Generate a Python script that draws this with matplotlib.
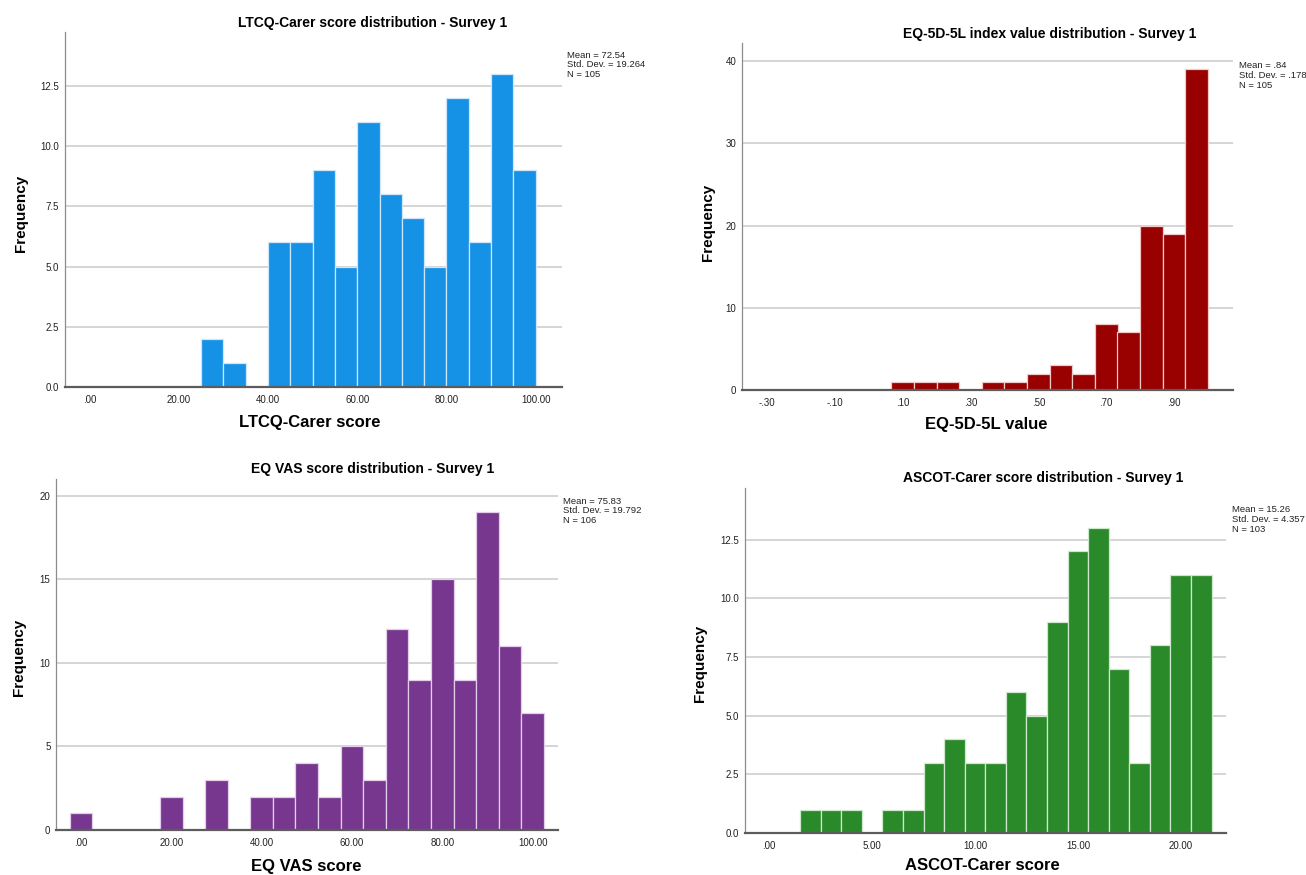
import matplotlib
matplotlib.use('Agg')
import matplotlib.pyplot as plt
import numpy as np

plt.rcParams['font.family'] = ['Liberation Sans', 'DejaVu Sans']

# LTCQ-Carer score, bins of width 5 (left edges)
ltcq_left = [25, 30, 35, 40, 45, 50, 55, 60, 65, 70, 75, 80, 85, 90, 95]
ltcq_counts = [2, 1, 0, 6, 6, 9, 5, 11, 8, 7, 5, 12, 6, 13, 9]

# EQ-5D-5L index value, bins of width 1/15 (left edges)
eq5d_left = [0.0667, 0.1333, 0.2, 0.2667, 0.3333, 0.4, 0.4667,
             0.5333, 0.6, 0.6667, 0.7333, 0.8, 0.8667, 0.9333]
eq5d_counts = [1, 1, 1, 0, 1, 1, 2, 3, 2, 8, 7, 20, 19, 39]

# EQ VAS score, bins of width 5 (centres)
vas_mid = [0, 5, 10, 15, 20, 25, 30, 35, 40, 45, 50,
           55, 60, 65, 70, 75, 80, 85, 90, 95, 100]
vas_counts = [1, 0, 0, 0, 2, 0, 3, 0, 2, 2, 4, 2, 5, 3, 12, 9, 15, 9, 19, 11, 7]

# ASCOT-Carer score, bins of width 1 (centres)
ascot_mid = [2, 3, 4, 5, 6, 7, 8, 9, 10, 11, 12, 13, 14, 15, 16, 17, 18, 19, 20, 21]
ascot_counts = [1, 1, 1, 0, 1, 1, 3, 4, 3, 3, 6, 5, 9, 12, 13, 7, 3, 8, 11, 11]

W, H = 1306, 875
fig = plt.figure(figsize=(W / 100, H / 100), dpi=100)


def px_axes(x0, y0, x1, y1):
    # axes from pixel box (left, top, right, bottom)
    return fig.add_axes([x0 / W, 1 - y1 / H, (x1 - x0) / W, (y1 - y0) / H])


def px_text(x, y, s, **kw):
    fig.text(x / W, 1 - y / H, s, **kw)


def style_axes(ax, xlim, ylim, yticks, ylabels, xticks, xlabels):
    ax.set_xlim(*xlim)
    ax.set_ylim(*ylim)
    ax.set_yticks(yticks)
    ax.set_yticklabels(ylabels)
    ax.set_xticks(xticks)
    ax.set_xticklabels(xlabels)
    ax.tick_params(length=0, labelsize=7, colors='#222222')
    ax.tick_params(axis='y', pad=4)
    ax.tick_params(axis='x', pad=6)
    ax.yaxis.grid(True, color='#d2d2d2', lw=1.3)
    ax.set_axisbelow(True)
    ax.spines['top'].set_visible(False)
    ax.spines['right'].set_visible(False)
    ax.spines['left'].set_color('#8c8c8c')
    ax.spines['left'].set_linewidth(0.9)
    ax.spines['bottom'].set_color('#5c5c5c')
    ax.spines['bottom'].set_linewidth(1.6)


def stats_box(x, y, lines):
    for i, s in enumerate(lines):
        px_text(x, y + i * 9.8, s, fontsize=6.8, va='center', ha='left', color='#222222')


# Panel 1: LTCQ-Carer
ax1 = px_axes(64.6, 32, 562, 387)
ax1.bar(ltcq_left, ltcq_counts, width=5, align='edge', color='#1591e6',
        edgecolor='#cfe6fa', linewidth=0.9)
style_axes(ax1, (-5.6, 105.9), (0, 14.74),
           [0, 2.5, 5, 7.5, 10, 12.5], ['0.0', '2.5', '5.0', '7.5', '10.0', '12.5'],
           [0, 20, 40, 60, 80, 100], ['.00', '20.00', '40.00', '60.00', '80.00', '100.00'])
px_text(373, 23, 'LTCQ-Carer score distribution - Survey 1', fontsize=10,
        fontweight='bold', ha='center', va='center')
px_text(310, 423, 'LTCQ-Carer score', fontsize=12, fontweight='bold', ha='center', va='center')
px_text(21, 213, 'Frequency', fontsize=11, fontweight='bold', ha='center', va='center',
        rotation=90)
stats_box(567, 55, ['Mean = 72.54', 'Std. Dev. = 19.264', 'N = 105'])

# Panel 2: EQ-5D-5L
ax2 = px_axes(742, 43, 1233, 390)
ax2.bar(eq5d_left, eq5d_counts, width=0.0667, align='edge', color='#990000',
        edgecolor='#f0c8c8', linewidth=0.9)
style_axes(ax2, (-0.374, 1.074), (0, 42.2),
           [0, 10, 20, 30, 40], ['0', '10', '20', '30', '40'],
           [-0.3, -0.1, 0.1, 0.3, 0.5, 0.7, 0.9],
           ['-.30', '-.10', '.10', '.30', '.50', '.70', '.90'])
px_text(1050, 34, 'EQ-5D-5L index value distribution - Survey 1', fontsize=10,
        fontweight='bold', ha='center', va='center')
px_text(986, 424, 'EQ-5D-5L value', fontsize=12, fontweight='bold', ha='center', va='center')
px_text(708, 222, 'Frequency', fontsize=11, fontweight='bold', ha='center', va='center',
        rotation=90)
stats_box(1239, 66, ['Mean = .84', 'Std. Dev. = .178', 'N = 105'])

# Panel 3: EQ VAS
ax3 = px_axes(56, 479, 557.5, 830)
ax3.bar(vas_mid, vas_counts, width=5, color='#78378f',
        edgecolor='#e2cdea', linewidth=0.9)
style_axes(ax3, (-5.5, 105.5), (0, 21.0),
           [0, 5, 10, 15, 20], ['0', '5', '10', '15', '20'],
           [0, 20, 40, 60, 80, 100], ['.00', '20.00', '40.00', '60.00', '80.00', '100.00'])
px_text(373, 469, 'EQ VAS score distribution - Survey 1', fontsize=10,
        fontweight='bold', ha='center', va='center')
px_text(306, 866, 'EQ VAS score', fontsize=12, fontweight='bold', ha='center', va='center')
px_text(19, 657, 'Frequency', fontsize=11, fontweight='bold', ha='center', va='center',
        rotation=90)
stats_box(563, 501, ['Mean = 75.83', 'Std. Dev. = 19.792', 'N = 106'])

# Panel 4: ASCOT-Carer
ax4 = px_axes(744.6, 488, 1226, 833)
ax4.bar(ascot_mid, ascot_counts, width=1, color='#2a8a2a',
        edgecolor='#cde8cd', linewidth=0.9)
style_axes(ax4, (-1.2, 22.2), (0, 14.7),
           [0, 2.5, 5, 7.5, 10, 12.5], ['0.0', '2.5', '5.0', '7.5', '10.0', '12.5'],
           [0, 5, 10, 15, 20], ['.00', '5.00', '10.00', '15.00', '20.00'])
px_text(1043, 478, 'ASCOT-Carer score distribution - Survey 1', fontsize=10,
        fontweight='bold', ha='center', va='center')
px_text(982, 866, 'ASCOT-Carer score', fontsize=12, fontweight='bold', ha='center', va='center')
px_text(700, 663, 'Frequency', fontsize=11, fontweight='bold', ha='center', va='center',
        rotation=90)
stats_box(1232, 510, ['Mean = 15.26', 'Std. Dev. = 4.357', 'N = 103'])

fig.savefig('out.png', dpi=100, facecolor='white')
